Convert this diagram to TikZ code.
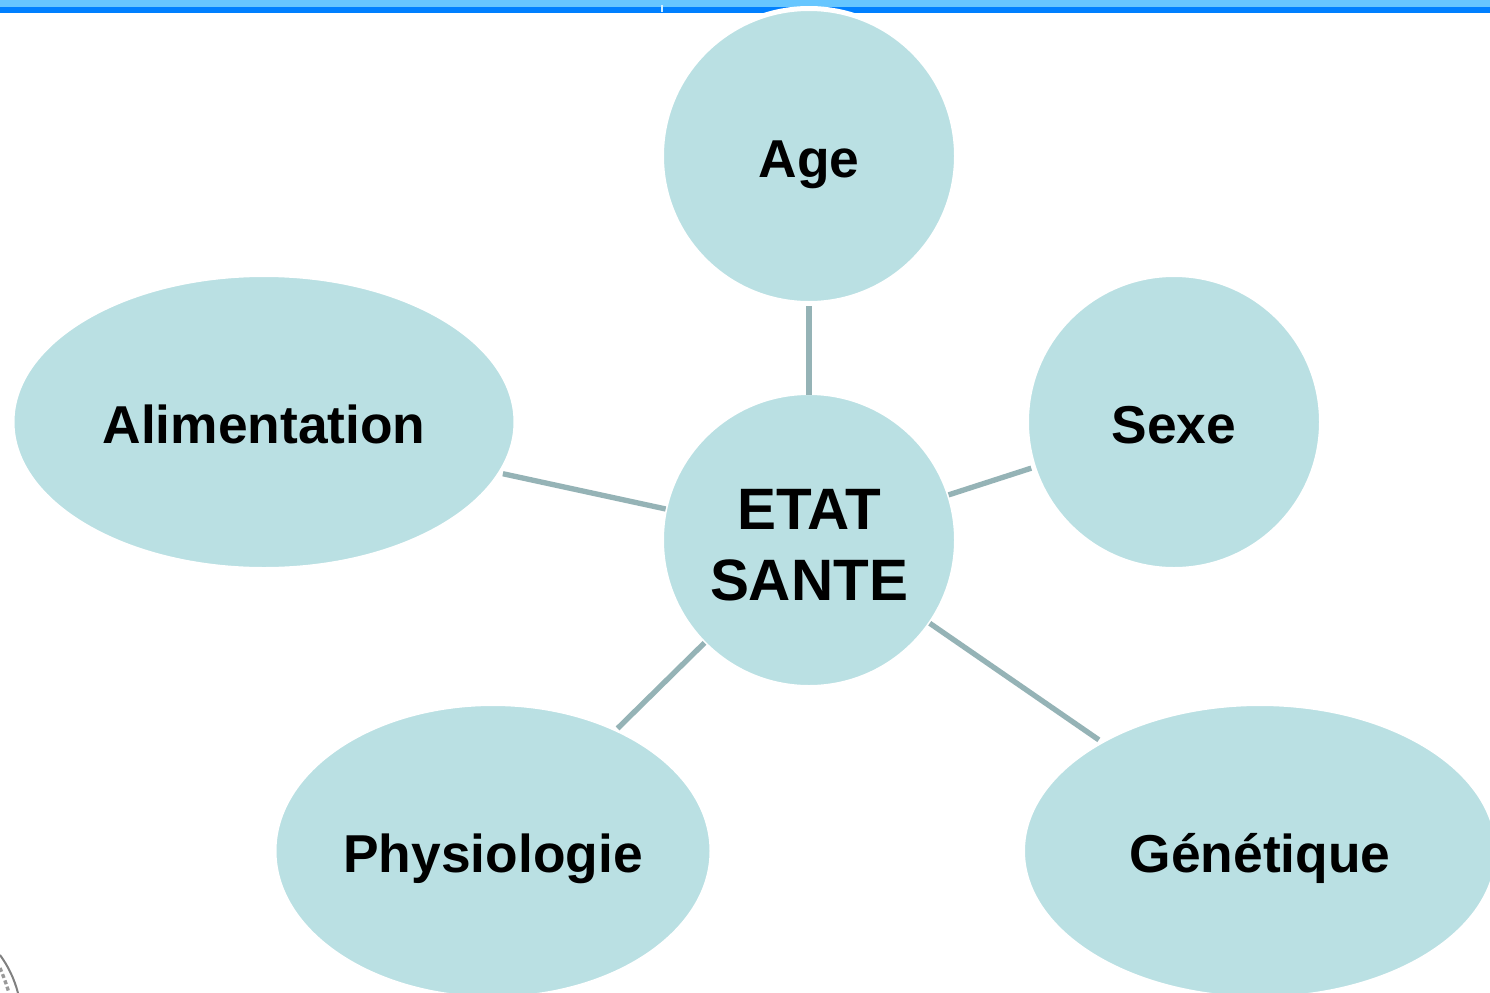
\documentclass[tikz,border=0pt]{standalone}
\usepackage{fontspec}
\setmainfont{Liberation Sans}
\usetikzlibrary{shapes.geometric}
\definecolor{bubble}{HTML}{BAE0E3}
\definecolor{linkc}{HTML}{95B3B6}
\definecolor{barlight}{HTML}{66C6FF}
\definecolor{bardark}{HTML}{0080FF}
\tikzset{
  x=0.75pt,y=-0.75pt,
  bubblenode/.style={ellipse,fill=bubble,draw=white,line width=3.75pt,inner sep=0pt,
    font=\fontsize{40pt}{52.5pt}\bfseries\selectfont,text=black,align=center},
  single/.style={text height=32.5pt,text depth=0pt},
  linkline/.style={draw=linkc,line width=4pt,shorten >=-2.5pt},
}
\begin{document}
\begin{tikzpicture}
\useasboundingbox (0,0) rectangle (1490,993);
\clip (0,0) rectangle (1490,993);
\fill[white] (0,0) rectangle (1490,993);
\fill[barlight] (0,0) rectangle (1490,7);
\fill[bardark] (0,7) rectangle (1490,13);
\fill[white!70!barlight] (661,5) rectangle (663,12);
\node[bubblenode,single,minimum width=295pt*0.75,minimum height=295pt*0.75] (age) at (809,156) {Age};
\node[bubblenode,single,minimum width=295pt*0.75,minimum height=295pt*0.75] (sexe) at (1174,422) {Sexe};
\node[bubblenode,single,minimum width=504pt*0.75,minimum height=295pt*0.75] (alim) at (264,422) {Alimentation};
\node[bubblenode,single,minimum width=438pt*0.75,minimum height=295pt*0.75] (phys) at (493,851) {Physiologie};
\node[bubblenode,single,minimum width=475pt*0.75,minimum height=295pt*0.75] (gene) at (1260,851) {Génétique};
\node[bubblenode,minimum width=295pt*0.75,minimum height=295pt*0.75,font=\fontsize{43.8pt}{53pt}\bfseries\selectfont] (etat) at (809,540) {\rule{0pt}{38pt}ETAT\\SANTE};
\draw[linkline,shorten >=-3.75pt] (age) -- (etat);
\draw[linkline] (sexe) -- (etat);
\draw[linkline] (alim) -- (etat);
\draw[linkline,shorten <=-1pt] (phys) -- (etat);
\draw[linkline] (gene) -- (etat);
\draw[gray,line width=1.5pt] (0,955) .. controls (8,966) and (14,978) .. (18,993);
\draw[gray!80,line width=2.5pt,dash pattern=on 3pt off 2pt] (0,968) .. controls (3,975) and (6,983) .. (9,993);
\end{tikzpicture}
\end{document}
